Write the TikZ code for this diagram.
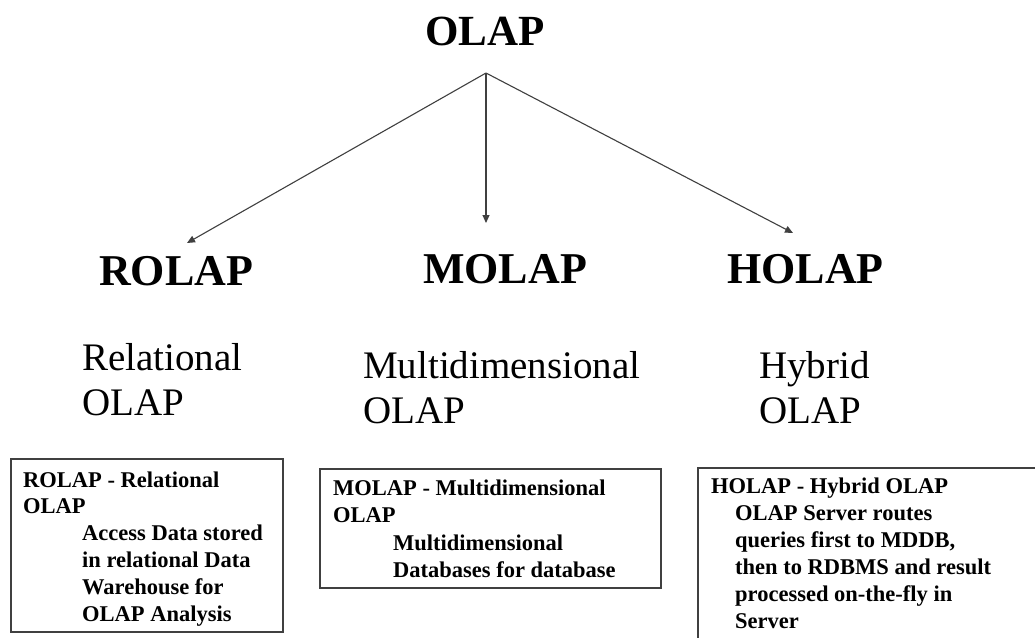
\documentclass[tikz,border=0pt]{standalone}
\usepackage{fontspec}
\setmainfont{Liberation Serif}
\usetikzlibrary{arrows.meta}
\begin{document}
\begin{tikzpicture}[x=1pt,y=-1pt,
  big/.style={anchor=base west,inner sep=0pt,font=\fontsize{44}{50}\selectfont\bfseries},
  sub/.style={anchor=base west,inner sep=0pt,font=\fontsize{39}{45}\selectfont},
  btxt/.style={anchor=base west,inner sep=0pt,font=\fontsize{22.5}{27}\selectfont\bfseries},
  boxline/.style={draw=black!75,line width=1.1pt},
  conn/.style={draw=black!75,line width=1.1pt,-{Triangle[length=8pt,width=7pt]}}]
\useasboundingbox (0,0) rectangle (1035,637);
\fill[white] (0,0) rectangle (1035,637);
% title
\node[big,font=\fontsize{43}{50}\selectfont\bfseries] (olap) at (425,45) {OLAP};
\coordinate (apex) at (486,73);
\coordinate (tipR) at (187,243);
\coordinate (tipM) at (486,223);
\coordinate (tipH) at (793,233);
\draw[conn] (apex) -- (tipR);
\draw[conn] (apex) -- (tipM);
\draw[conn] (apex) -- (tipH);
% category titles
\node[big] (rolap) at (99,285) {ROLAP};
\node[big] (molap) at (423,283) {MOLAP};
\node[big] (holap) at (727,283) {HOLAP};
% subtitles
\node[sub] (rs1) at (82,370) {Relational};
\node[sub] (rs2) at (82,415) {OLAP};
\node[sub] (ms1) at (363,378) {Multidimensional};
\node[sub] (ms2) at (363,423) {OLAP};
\node[sub] (hs1) at (759,378) {Hybrid};
\node[sub] (hs2) at (759,423) {OLAP};
% box 1
\draw[boxline] (11,459) rectangle (283,632);
\node[btxt] (r1) at (23,487) {ROLAP - Relational};
\node[btxt] (r2) at (23,513) {OLAP};
\node[btxt] (r3) at (82,540) {Access Data stored};
\node[btxt] (r4) at (82,567) {in relational Data};
\node[btxt] (r5) at (82,594) {Warehouse for};
\node[btxt] (r6) at (82,621) {OLAP Analysis};
% box 2
\draw[boxline] (320,469) rectangle (661,588);
\node[btxt] (m1) at (333,495) {MOLAP - Multidimensional};
\node[btxt] (m2) at (333,522) {OLAP};
\node[btxt] (m3) at (393,550) {Multidimensional};
\node[btxt] (m4) at (393,577) {Databases for database};
% box 3 (runs off the picture)
\begin{scope}
\clip (0,0) rectangle (1035,637);
\draw[boxline] (698,468) rectangle (1045,650);
\end{scope}
\node[btxt] (h1) at (711,493) {HOLAP - Hybrid OLAP};
\node[btxt] (h2) at (735,520) {OLAP Server routes};
\node[btxt] (h3) at (735,547) {queries first to MDDB,};
\node[btxt] (h4) at (735,574) {then to RDBMS and result};
\node[btxt] (h5) at (735,601) {processed on-the-fly in};
\node[btxt] (h6) at (735,628) {Server};
\end{tikzpicture}
\end{document}
